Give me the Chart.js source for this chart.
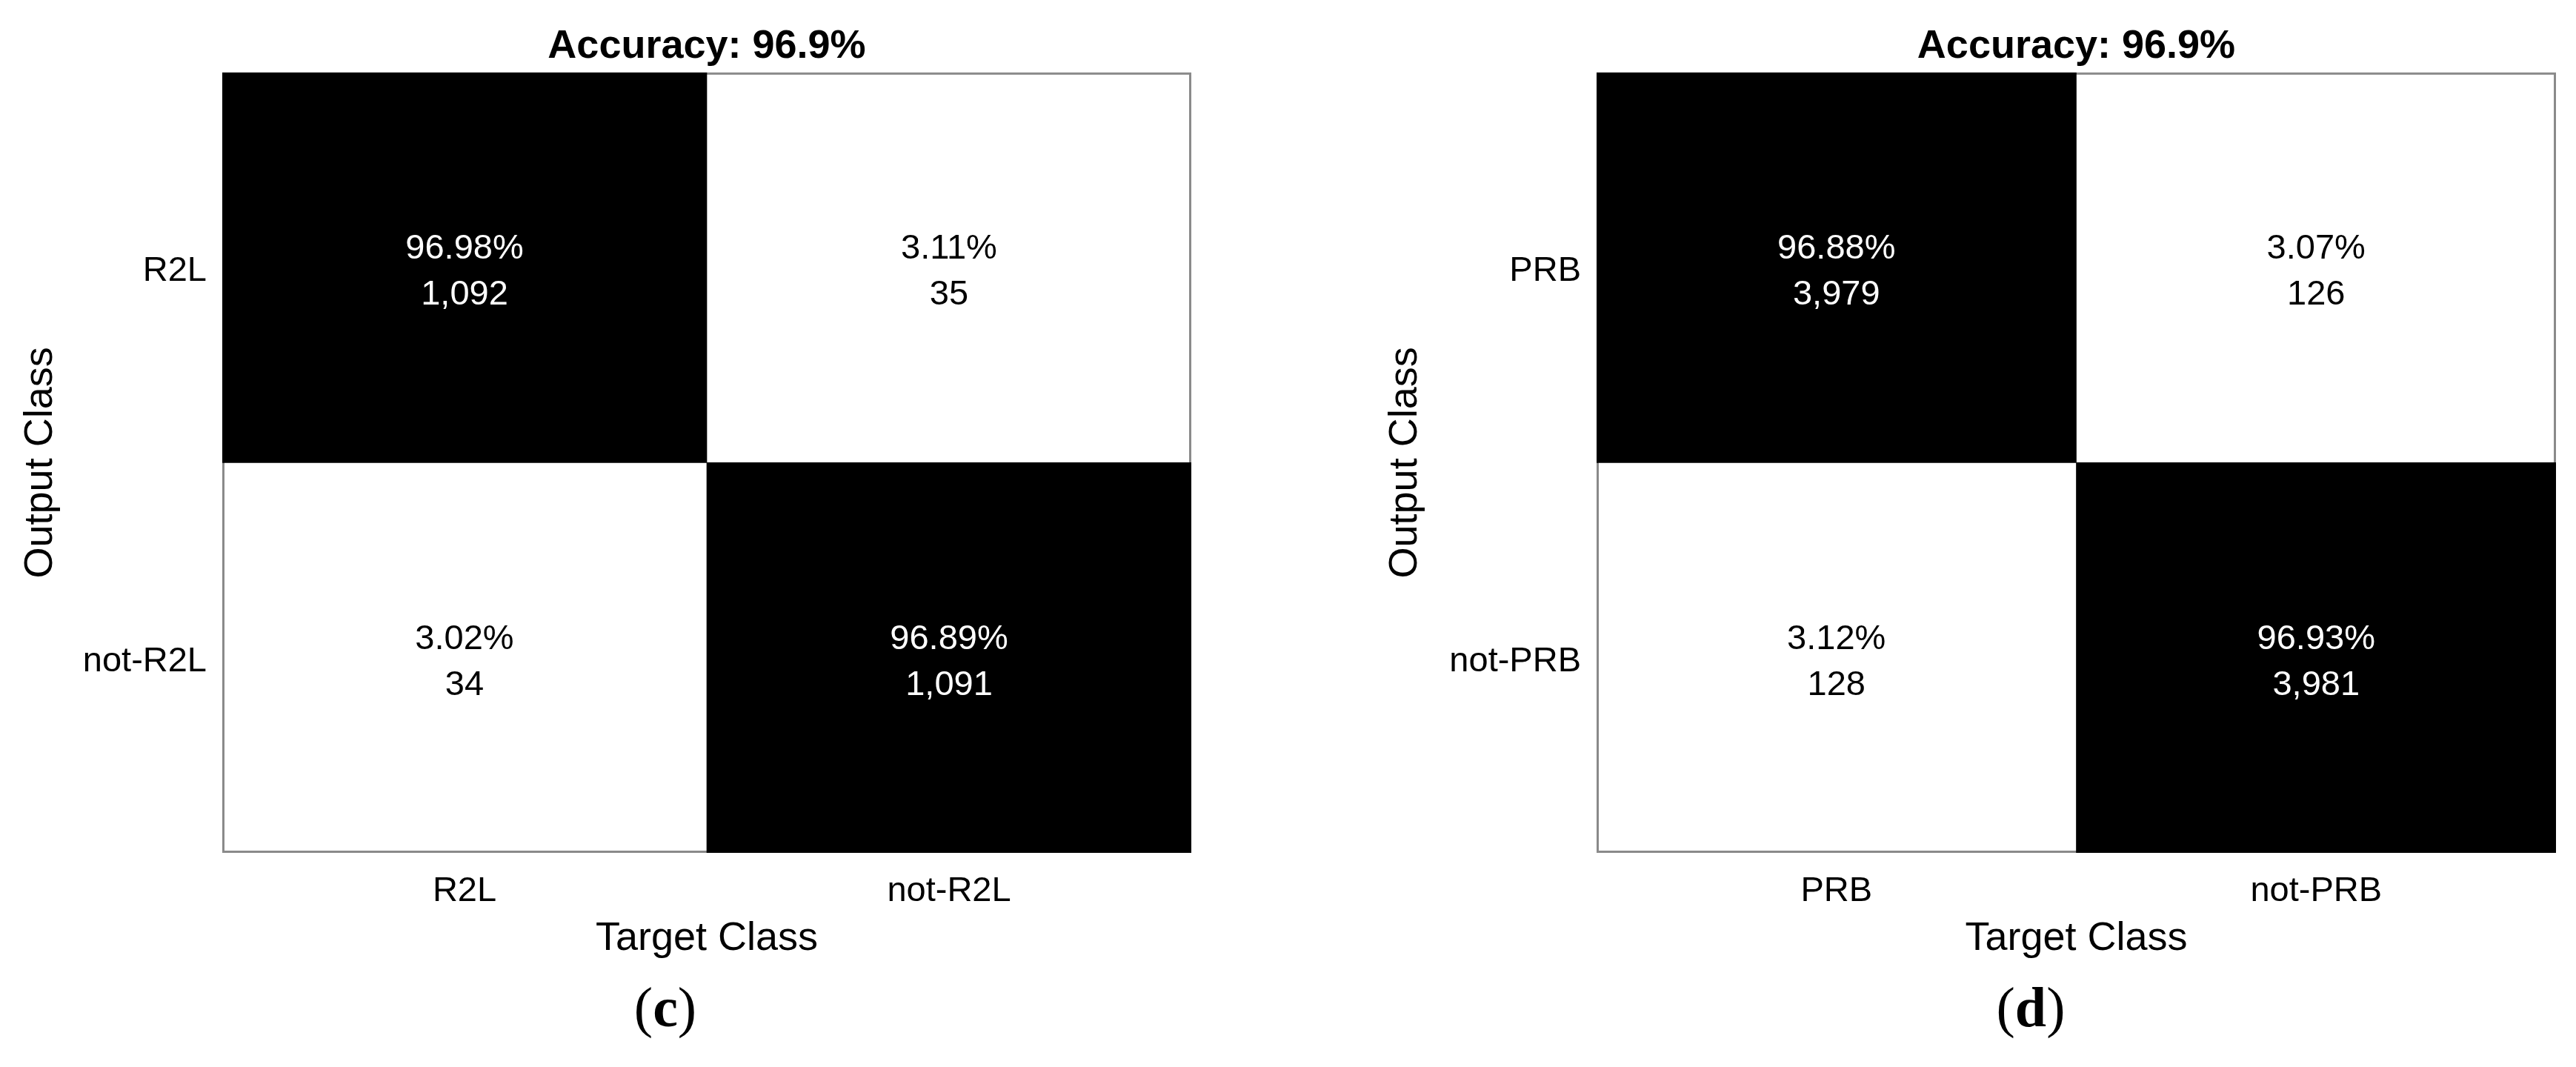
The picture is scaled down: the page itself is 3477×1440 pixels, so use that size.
<!DOCTYPE html>
<html>
<head>
<meta charset="utf-8">
<script src="https://cdn.jsdelivr.net/npm/chart.js@4.4.1/dist/chart.umd.min.js"></script>
<style>
  html, body { margin: 0; padding: 0; background: #fff; }
  #page { position: relative; width: 3477px; height: 1440px; overflow: hidden; background: #fff; }
  canvas { position: absolute; top: 0; }
  .cap { position: absolute; top: 1321px; font-family: "Liberation Serif", "Times New Roman", serif;
         font-size: 76px; line-height: 76px; color: #000; transform: translateX(-50%); white-space: nowrap; }
</style>
</head>
<body>
<div id="page">
  <canvas id="chartC" width="1700" height="1320" style="left:0px"></canvas>
  <canvas id="chartD" width="1635" height="1320" style="left:1842px"></canvas>
  <div class="cap" style="left:898px">(<b>c</b>)</div>
  <div class="cap" style="left:2741px">(<b>d</b>)</div>
</div>
<script>
// class names (rows = output class, cols = target class)
const classesC = ['R2L', 'not-R2L'];
const classesD = ['PRB', 'not-PRB'];

// percentage shown in each cell
const pctC = [[96.98, 3.11], [3.02, 96.89]];
const pctD = [[96.88, 3.07], [3.12, 96.93]];

// count shown in each cell
const countC = [[1092, 35], [34, 1091]];
const countD = [[3979, 126], [128, 3981]];

// overall accuracy per panel
const accuracyC = 96.9;
const accuracyD = 96.9;

const FONT = '"Liberation Sans", Arial, Helvetica, sans-serif';
const TEXT = '#000';

// plot frame, drawn under the cells so black cells hide it
const framePlugin = {
    id: 'frame',
    beforeDatasetsDraw(chart) {
        const {ctx, chartArea: a} = chart;
        ctx.save();
        ctx.strokeStyle = '#8a8a8a';
        ctx.lineWidth = 3;
        ctx.strokeRect(a.left + 1.5, a.top + 1.5, a.right - a.left - 3, a.bottom - a.top - 3);
        ctx.restore();
    }
};

// percentage + count inside every cell
const cellTextPlugin = {
    id: 'cellText',
    afterDatasetsDraw(chart) {
        const {ctx} = chart;
        ctx.save();
        ctx.font = '47px ' + FONT;
        ctx.textAlign = 'center';
        ctx.textBaseline = 'middle';
        chart.data.datasets.forEach((ds, r) => {
            chart.getDatasetMeta(r).data.forEach((bar, k) => {
                const cy = (bar.y + bar.base) / 2;
                ctx.fillStyle = r === k ? '#fff' : '#000';
                ctx.fillText(ds.pct[k].toFixed(2) + '%', bar.x, cy - 25);
                ctx.fillText(ds.count[k].toLocaleString('en-US'), bar.x, cy + 37);
            });
        });
        ctx.restore();
    }
};

const makeMatrix = (tag, classes, pct, count, acc, yWidth, rightPad) => {
    // one floating bar per cell: row r spans [r, r+1] on the y scale
    const datasets = classes.map((rowName, r) => ({
        label: rowName,
        data: classes.map(() => [r, r + 1]),
        backgroundColor: classes.map((c, k) => r === k ? '#000000' : 'rgba(255,255,255,0)'),
        borderWidth: 0,
        grouped: false,
        categoryPercentage: 1,
        barPercentage: 1,
        pct: pct[r],
        count: count[r]
    }));

    const ctx = document.getElementById(tag).getContext('2d');
    return new Chart(ctx, {
        type: 'bar',
        data: { labels: classes, datasets: datasets },
        options: {
            responsive: false,
            animation: false,
            events: [],
            layout: { padding: { left: 0, right: rightPad, top: 0, bottom: 0 } },
            scales: {
                x: {
                    type: 'category',
                    offset: true,
                    grid: { display: false, drawTicks: false },
                    border: { display: false },
                    ticks: { color: TEXT, font: { family: FONT, size: 47 }, padding: 24, maxRotation: 0 },
                    title: { display: true, text: 'Target Class', color: TEXT,
                             font: { family: FONT, size: 54 }, padding: { top: 0, bottom: 20 } },
                    afterFit: (s) => { s.height = 1320 - 1151; }
                },
                y: {
                    type: 'linear',
                    min: 0,
                    max: classes.length,
                    reverse: true,
                    afterBuildTicks: (s) => { s.ticks = classes.map((c, i) => ({ value: i + 0.5 })); },
                    grid: { display: false, drawTicks: false },
                    border: { display: false },
                    ticks: { color: TEXT, font: { family: FONT, size: 47 }, padding: 21, labelOffset: 5,
                             callback: (v, i) => classes[i] },
                    title: { display: true, text: 'Output Class', color: TEXT,
                             font: { family: FONT, size: 54 }, padding: { top: 23, bottom: 0 } },
                    afterFit: (s) => { s.width = yWidth; }
                }
            },
            plugins: {
                legend: { display: false },
                tooltip: { enabled: false },
                title: {
                    display: true,
                    fullSize: false,
                    text: 'Accuracy: ' + acc + '%',
                    color: TEXT,
                    font: { family: FONT, size: 54, weight: 'bold' },
                    padding: { top: 31, bottom: 2 }
                }
            }
        },
        plugins: [framePlugin, cellTextPlugin]
    });
};

makeMatrix('chartC', classesC, pctC, countC, accuracyC, 300, 1700 - 1608);
makeMatrix('chartD', classesD, pctD, countD, accuracyD, 2155 - 1842, 1635 - (3450 - 1842));
</script>
</body>
</html>
